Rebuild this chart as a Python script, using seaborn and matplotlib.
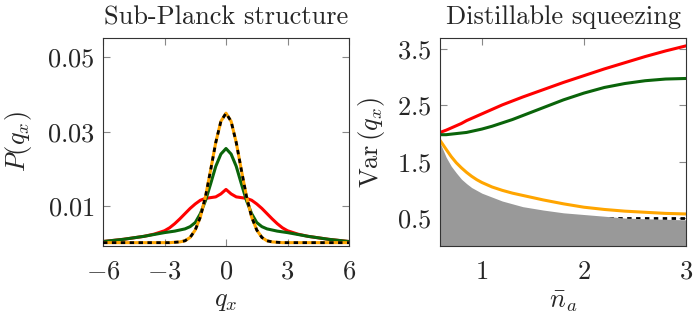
import numpy as np
import pandas as pd
import seaborn as sns
import matplotlib
matplotlib.use("Agg")
from matplotlib import pyplot as plt

# left panel: P(q_x) (symmetric about 0)
q_half = [0, 0.25, 0.5, 0.75, 1.0, 1.25, 1.5, 1.75, 2.0, 2.25, 2.5, 2.75, 3.0, 3.5, 4.0, 4.5, 5.0, 5.5, 6.0]
p_target = [0.0350, 0.0328, 0.0271, 0.0197, 0.0126, 0.0071, 0.0036, 0.0016, 0.0007, 0.0004, 0.0003, 0.0002,
            0.0002, 0.0002, 0.0002, 0.0002, 0.0002, 0.0002, 0.0002]
p_green = [0.0255, 0.0240, 0.0207, 0.0160, 0.0115, 0.0080, 0.0056, 0.0045, 0.0039, 0.0036, 0.0033, 0.0031,
           0.0029, 0.0024, 0.0019, 0.0015, 0.0011, 0.0008, 0.0005]
p_red = [0.0145, 0.0133, 0.0125, 0.0123, 0.0121, 0.0116, 0.0106, 0.0094, 0.0080, 0.0066, 0.0053, 0.0042,
         0.0034, 0.0025, 0.0019, 0.0015, 0.0011, 0.0008, 0.0005]

# right panel: Var(q_x) vs mean photon number
n_a = [0.59, 0.65, 0.7, 0.75, 0.8, 0.85, 0.9, 0.95, 1.0, 1.1, 1.2, 1.3, 1.4, 1.6, 1.8, 2.0, 2.2, 2.4, 2.6, 2.8, 3.0]
var_red = [2.02, 2.06, 2.10, 2.14, 2.18, 2.23, 2.27, 2.31, 2.35, 2.43, 2.51, 2.58, 2.65, 2.78, 2.91, 3.03, 3.15,
           3.26, 3.37, 3.47, 3.56]
var_green = [1.98, 1.98, 1.99, 2.00, 2.01, 2.02, 2.04, 2.06, 2.08, 2.13, 2.19, 2.25, 2.32, 2.46, 2.60, 2.72, 2.82,
             2.89, 2.94, 2.97, 2.98]
var_orange = [1.88, 1.72, 1.59, 1.48, 1.39, 1.31, 1.24, 1.18, 1.13, 1.05, 0.99, 0.94, 0.90, 0.82, 0.75, 0.69, 0.65,
              0.62, 0.60, 0.58, 0.57]
var_bound = [1.84, 1.58, 1.42, 1.30, 1.19, 1.11, 1.04, 0.99, 0.94, 0.87, 0.80, 0.75, 0.70, 0.64, 0.59, 0.56, 0.53,
             0.497, 0.485, 0.475, 0.465]
vacuum = 0.5


def mirror(xs, ys):
    xs = np.asarray(xs)
    ys = np.asarray(ys)
    return np.concatenate([-xs[:0:-1], xs]), np.concatenate([ys[:0:-1], ys])


sns.set_theme(style="ticks")
plt.rcParams.update({
    "font.family": "serif",
    "font.serif": ["cmr10"],
    "mathtext.fontset": "cm",
    "axes.formatter.use_mathtext": True,
    "font.size": 19,
    "axes.edgecolor": "#333333",
    "axes.linewidth": 0.8,
})

colors = {"red": "#ff0000", "green": "#0a640a", "orange": "#ffa500"}

left = []
for name, ys in [("red", p_red), ("green", p_green), ("orange", p_target)]:
    qq, pp = mirror(q_half, ys)
    left.append(pd.DataFrame({"q": qq, "P": pp, "curve": name}))
left = pd.concat(left)

right = pd.concat([
    pd.DataFrame({"n": n_a, "var": var_red, "curve": "red"}),
    pd.DataFrame({"n": n_a, "var": var_green, "curve": "green"}),
    pd.DataFrame({"n": n_a, "var": var_orange, "curve": "orange"}),
])

fig = plt.figure(figsize=(7, 3.2), dpi=100)
ax1 = fig.add_axes([103 / 700, 74 / 320, 246 / 700, 208 / 320])
ax2 = fig.add_axes([440 / 700, 74 / 320, 246 / 700, 208 / 320])

sns.lineplot(data=left, x="q", y="P", hue="curve", palette=colors, legend=False, lw=2.2, ax=ax1, zorder=2)
qq, pp = mirror(q_half, p_target)
sns.lineplot(x=qq, y=pp, color="black", lw=2.0, linestyle=(0, (1.6, 1.6)), ax=ax1, zorder=3)
ax1.set_xlim(-6, 6)
ax1.set_ylim(-0.0007, 0.0552)
ax1.set_xticks([-6, -3, 0, 3, 6])
ax1.set_yticks([0.01, 0.03, 0.05])
ax1.set_title("Sub-Planck structure", fontsize=19, pad=10)
ax1.set_xlabel(r"$q_x$", fontsize=19)
ax1.set_ylabel(r"$P(q_x)$", fontsize=19)

ax2.plot([n_a[0], n_a[-1]], [vacuum, vacuum], color="black", lw=2.0, linestyle=(0, (1.6, 1.6)), zorder=1)
ax2.fill_between(n_a, 0, var_bound, color="#999999", lw=0, zorder=1.5)
sns.lineplot(data=right, x="n", y="var", hue="curve", palette=colors, legend=False, lw=2.2, ax=ax2, zorder=2)
ax2.set_xlim(0.59, 3)
ax2.set_ylim(0, 3.7)
ax2.set_xticks([1, 2, 3])
ax2.set_yticks([0.5, 1.5, 2.5, 3.5])
ax2.set_title("Distillable squeezing", fontsize=19, pad=10)
ax2.set_xlabel(r"$\bar{n}_a$", fontsize=19)
ax2.set_ylabel(r"$\mathrm{Var}\,(q_x)$", fontsize=19)

for ax in (ax1, ax2):
    ax.tick_params(direction="in", top=True, right=True, length=5, width=0.8, color="#888888",
                   labelsize=19)
    ax.tick_params(axis="x", pad=10)
    ax.tick_params(axis="y", pad=6)
    for s in ax.spines.values():
        s.set_visible(True)
    ax.xaxis.set_label_coords(0.5, -0.21)

ax1.yaxis.set_label_coords(-0.28, 0.5)
ax2.yaxis.set_label_coords(-0.215, 0.5)

fig.savefig("out.png", dpi=100)
